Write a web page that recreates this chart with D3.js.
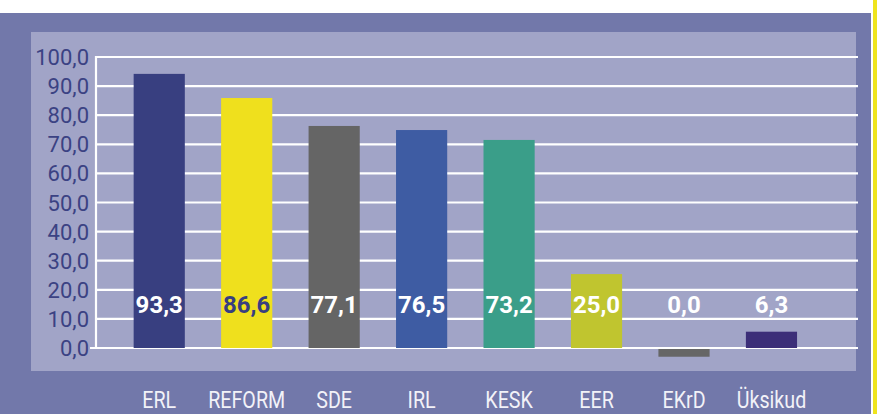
<!DOCTYPE html>
<html>
<head>
<meta charset="utf-8">
<script src="https://cdn.jsdelivr.net/npm/d3@7"></script>
<style>
  html, body { margin: 0; padding: 0; background: #ffffff; }
  svg { display: block; }
</style>
</head>
<body>
<svg id="chart" width="877" height="414"></svg>
<script>
// ---- data ----
const categories = ["ERL", "REFORM", "SDE", "IRL", "KESK", "EER", "EKrD", "Üksikud"];
// values printed on the bars
const labelValues = [93.3, 86.6, 77.1, 76.5, 73.2, 25.0, 0.0, 6.3];
// bar heights as drawn in the picture
const barValues = [94.2, 85.9, 76.3, 74.9, 71.5, 25.4, -3.0, 5.6];
const barColors = ["#383f80", "#efe01d", "#656565", "#3e5ca3", "#3a9e89", "#c0c52f", "#666666", "#3c2e78"];
const labelColors = ["#ffffff", "#383f80", "#ffffff", "#ffffff", "#ffffff", "#ffffff", "#ffffff", "#ffffff"];
const yTicks = [0, 10, 20, 30, 40, 50, 60, 70, 80, 90, 100];

const fmt = v => v.toFixed(1).replace(".", ",");

const svg = d3.select("#chart");

// backgrounds
svg.append("rect").attr("x", 0).attr("y", 13).attr("width", 871).attr("height", 401).attr("fill", "#7278aa");
svg.append("rect").attr("x", 873).attr("y", 0).attr("width", 4).attr("height", 414).attr("fill", "#efe41e");
svg.append("rect").attr("x", 31).attr("y", 32).attr("width", 825).attr("height", 339).attr("fill", "#a1a4c7");

// scales
const y = d3.scaleLinear().domain([0, 100]).range([348, 57]);
const x = d3.scaleBand().domain(categories).range([115.5, 815.2]).padding(0);
const barW = x.bandwidth() * 0.585;

// gridlines
svg.append("g").selectAll("line").data(yTicks).join("line")
  .attr("x1", d => d === 0 ? 90 : 96).attr("x2", 858)
  .attr("y1", d => y(d)).attr("y2", d => y(d))
  .attr("stroke", "#ffffff").attr("stroke-width", 2.2);

// y axis line
svg.append("line").attr("x1", 96).attr("x2", 96).attr("y1", y(100) - 1).attr("y2", y(0))
  .attr("stroke", "#ffffff").attr("stroke-width", 2.2);

// y tick labels
svg.append("g").selectAll("text").data(yTicks).join("text")
  .attr("x", 89).attr("y", d => y(d) + 8)
  .attr("text-anchor", "end")
  .attr("font-family", "Roboto, 'Open Sans', sans-serif")
  .attr("font-size", 22)
  .attr("fill", "#3b4283")
  .text(d => fmt(d));

// bars
svg.append("g").selectAll("rect").data(categories).join("rect")
  .attr("x", (d) => x(d) + (x.bandwidth() - barW) / 2)
  .attr("width", barW)
  .attr("y", (d, i) => Math.min(y(barValues[i]), y(0) + 1))
  .attr("height", (d, i) => barValues[i] >= 0 ? y(0) - y(barValues[i]) : y(barValues[i]) - y(0) - 1)
  .attr("fill", (d, i) => barColors[i]);

// value labels
svg.append("g").selectAll("text").data(categories).join("text")
  .attr("x", d => x(d) + x.bandwidth() / 2)
  .attr("y", y(0) - 35)
  .attr("text-anchor", "middle")
  .attr("font-family", "Roboto, 'Open Sans', sans-serif")
  .attr("font-weight", 700)
  .attr("font-size", 24)
  .attr("fill", (d, i) => labelColors[i])
  .text((d, i) => fmt(labelValues[i]));

// category labels (condensed)
svg.append("g").selectAll("text").data(categories).join("text")
  .attr("transform", d => `translate(${x(d) + x.bandwidth() / 2},408) scale(0.82,1)`)
  .attr("text-anchor", "middle")
  .attr("font-family", "Roboto, 'Open Sans', sans-serif")
  .attr("font-weight", 400)
  .attr("font-size", 24)
  .attr("fill", "#f2f2f8")
  .text(d => d);
</script>
</body>
</html>
